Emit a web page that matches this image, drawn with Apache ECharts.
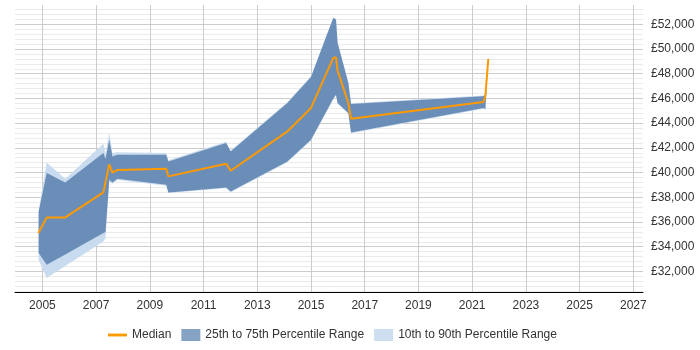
<!DOCTYPE html>
<html>
<head>
<meta charset="utf-8">
<script src="https://cdn.jsdelivr.net/npm/echarts@6/dist/echarts.min.js"></script>
<style>
  html, body { margin: 0; padding: 0; background: #fff; }
  #chart { width: 700px; height: 350px; }
</style>
</head>
<body>
<div id="chart"></div>
<script>
// median line
var medianYears = [2004.85, 2005.16, 2005.85, 2007.27, 2007.49, 2007.61, 2007.79, 2009.61, 2009.69,
  2011.84, 2012.01, 2014.12, 2015.0, 2015.83, 2015.93, 2015.99, 2016.39, 2016.49, 2021.42, 2021.49, 2021.6];
var median = [35110, 36370, 36370, 38400, 40670, 39990, 40210, 40310, 39690,
  40720, 40150, 43330, 45230, 49280, 49330, 48250, 45630, 44360, 45710, 46170, 49190];

// percentile bands
var bandYears = [2004.86, 2005.16, 2005.85, 2007.27, 2007.35, 2007.49, 2007.61, 2007.79, 2009.61, 2009.69,
  2011.84, 2012.01, 2014.12, 2015.0, 2015.83, 2015.93, 2015.99, 2016.39, 2016.49, 2021.42, 2021.49, 2021.6];
var p10 = [32940, 31460, 32430, 34430, 34700, 39250, 39100, 39400, 38940, 38340,
  38740, 38400, 40840, 42600, 45900, 46240, 45570, 44760, 43190, 45170, 45090, 49000];
var p25 = [33490, 32540, 33370, 35110, 35200, 39420, 39200, 39500, 39020, 38390,
  38800, 38470, 40900, 42660, 45990, 46300, 45630, 44820, 43250, 45230, 45150, 49100];
var p75 = [36830, 39960, 39200, 41580, 41090, 42660, 41310, 41440, 41440, 40900,
  42390, 41710, 45630, 47740, 52510, 52380, 50490, 47250, 45550, 46170, 46300, 49300];
var p90 = [36900, 40820, 39500, 42340, 41500, 43200, 41580, 41640, 41590, 40990,
  42490, 41790, 45700, 47800, 52560, 52430, 50540, 47300, 45610, 46230, 46400, 49500];

// axis labels
var xTicks = [2005, 2007, 2009, 2011, 2013, 2015, 2017, 2019, 2021, 2023, 2025, 2027];
var yTicks = [32000, 34000, 36000, 38000, 40000, 42000, 44000, 46000, 48000, 50000, 52000];
var yMinor = [];
for (var v = 30400; v <= 53200; v += 400) {
  if (v % 2000 !== 0) yMinor.push(v);
}

var yMin = 30335, yMax = 53560;

// one polygon per band, upper edge left->right then lower edge back
function bandSeries(name, lo, hi, color) {
  return {
    name: name,
    type: 'custom',
    silent: true,
    itemStyle: { color: color },
    data: bandYears.map(function (x, i) { return [x, lo[i], hi[i]]; }),
    encode: { x: 0, y: [1, 2] },
    renderItem: function (params, api) {
      if (params.dataIndex !== 0) return null;
      var pts = [];
      for (var i = 0; i < bandYears.length; i++) pts.push(api.coord([bandYears[i], hi[i]]));
      for (var j = bandYears.length - 1; j >= 0; j--) pts.push(api.coord([bandYears[j], lo[j]]));
      return {
        type: 'polygon',
        shape: { points: pts },
        style: { fill: color }
      };
    }
  };
}

var myChart = echarts.init(document.getElementById('chart'), null, { renderer: 'canvas' });

var option = {
  animation: false,
  textStyle: { fontFamily: '"Liberation Sans", Arial, sans-serif' },
  grid: { left: 15, right: 57, top: 5, bottom: 58 },
  legend: {
    left: 103,
    top: 324,
    itemWidth: 19,
    itemHeight: 12,
    itemGap: 10,
    textStyle: { color: '#333', fontSize: 12 },
    data: [
      { name: 'Median', icon: 'path://M0,0L20,0L20,3L0,3Z', itemStyle: { color: '#f90' } },
      { name: '25th to 75th Percentile Range', icon: 'rect', itemStyle: { color: '#87a3c4' } },
      { name: '10th to 90th Percentile Range', icon: 'rect', itemStyle: { color: '#cddef0' } }
    ]
  },
  xAxis: {
    type: 'value',
    min: 2003.98,
    max: 2027.36,
    axisLine: { lineStyle: { color: '#000', width: 1 } },
    axisTick: { show: false, customValues: xTicks },
    axisLabel: {
      customValues: xTicks,
      color: '#333',
      fontSize: 12,
      margin: 8,
      formatter: function (v) { return String(v); }
    },
    splitLine: { show: true, lineStyle: { color: '#ccc' } }
  },
  yAxis: [
    {
      type: 'value',
      position: 'right',
      min: yMin,
      max: yMax,
      axisLine: { show: false },
      axisTick: { show: false, customValues: yTicks },
      axisLabel: {
        customValues: yTicks,
        color: '#333',
        fontSize: 12,
        margin: 8,
        formatter: function (v) { return '£' + v.toLocaleString('en-GB'); }
      },
      splitLine: { show: true, lineStyle: { color: '#ccc' } },
      z: 1
    },
    {
      type: 'value',
      position: 'right',
      min: yMin,
      max: yMax,
      axisLine: { show: false },
      axisTick: { show: false, customValues: yMinor },
      axisLabel: { show: false, customValues: yMinor },
      splitLine: { show: true, lineStyle: { color: '#ebebeb' } },
      z: 0
    }
  ],
  series: [
    bandSeries('10th to 90th Percentile Range', p10, p90, '#c9dbee'),
    bandSeries('25th to 75th Percentile Range', p25, p75, '#6a8eb8'),
    {
      name: 'Median',
      type: 'line',
      symbol: 'none',
      itemStyle: { color: '#f90' },
      lineStyle: { color: '#f90', width: 2 },
      data: medianYears.map(function (x, i) { return [x, median[i]]; })
    }
  ]
};

myChart.setOption(option);
window.addEventListener('resize', myChart.resize);
</script>
</body>
</html>
